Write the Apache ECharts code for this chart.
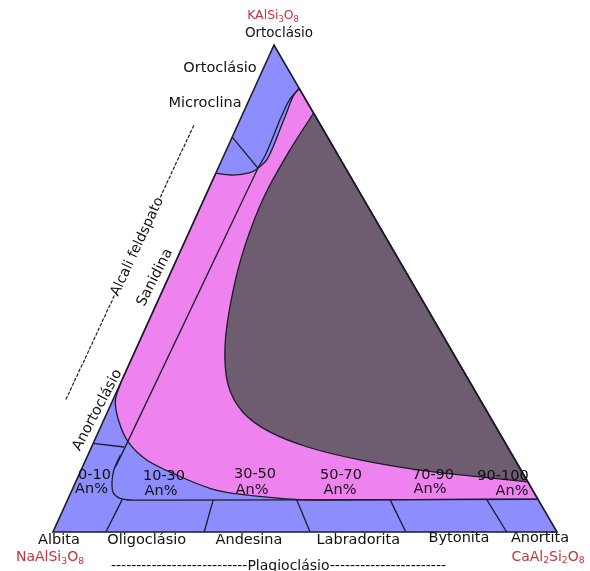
<!DOCTYPE html>
<html>
<head>
<meta charset="utf-8">
<script src="https://cdn.jsdelivr.net/npm/echarts@6/dist/echarts.min.js"></script>
<style>
  html, body { margin: 0; padding: 0; background: #ffffff; }
  #chart { width: 590px; height: 571px; }
</style>
</head>
<body>
<div id="chart"></div>
<script>
// Feldspar ternary diagram: Or (KAlSi3O8) – Ab (NaAlSi3O8) – An (CaAl2Si2O8).
// Every composition below is [Or, An] in mol %; Ab = 100 − Or − An.

const triangle = [[100, 0], [0, 0], [0, 100]];

// Lower limit of the K-feldspar field, from the Or–Ab edge to the Or–An edge
const kfsLimit = [[73.7, 0], [73.3, 3.6], [73.8, 6.7], [74.7, 7.9], [76.4, 8.9], [79.1, 9.0],
                  [82.5, 8.8], [86.0, 8.6], [89.4, 8.4], [91.1, 8.9]];
// Inner microcline boundary
const microclineLens = [[91.1, 8.9], [88.6, 8.0], [85.0, 7.9], [81.0, 8.1], [77.5, 8.2], [74.7, 7.9]];
// Orthoclase / microcline divide
const orthoclaseMicrocline = [[81.1, 0], [74.7, 7.9]];
// Sanidine / anorthoclase divide, bending into the upper limit of the plagioclases
const sanidineDivide = [[74.7, 7.9], [18.5, 6.7]];
const plagCorner = [[18.5, 6.7], [15.6, 6.45], [12.7, 6.5], [10.3, 7.2], [8.2, 8.3], [7.0, 10.0], [6.6, 12.4], [6.55, 20]];
const plagLimitEnd = [6.7, 93.3];
// Anorthoclase upper limit
const anorthoclaseLimit = [[18.2, 0], [17.45, 6.44]];
// Lower edge of the alkali-feldspar solid solution (merges into the plagioclase limit)
const solvusLower = [[6.6, 60], [6.65, 46.1], [7.95, 32.2], [8.97, 27.2], [11.7, 19.4], [14.8, 12.1],
                     [18.5, 6.8], [23.0, 2.9], [27.1, 0.5], [31.2, 0]];
const solvusRightEnd = [6.8, 93.2];
// Two-feldspar (miscibility gap) field
const twoFeldspar = [[86.0, 14.0], [78.4, 12.6], [69.2, 11.7], [58.9, 12.3], [48.7, 14.2], [38.4, 17.3],
                     [30.2, 21.5], [24.6, 26.9], [20.5, 34.1], [17.3, 43.4], [14.8, 54.4], [12.7, 67.2],
                     [11.3, 79.8], [10.3, 89.7]];
// Plagioclase series divides (An %)
const plagDividers = [
  [[6.6, 10.8], [0, 10.5]],
  [[6.55, 28.9], [0, 30]],
  [[6.55, 45.5], [0, 51]],
  [[6.6, 64.0], [0, 70]],
  [[6.6, 83.2], [0, 90]]
];

// Text
const anRanges = ['0-10', '10-30', '30-50', '50-70', '70-90', '90-100'];
const plagNames = ['Albita', 'Oligoclásio', 'Andesina', 'Labradorita', 'Bytonita', 'Anortita'];
const alkaliNames = ['Ortoclásio', 'Microclina', 'Sanidina', 'Anortoclásio'];
const groupNames = ['Alcali feldspato', 'Plagioclásio'];

// Horizontal position of the Or apex along the Ab–An base (%)
const APEX_X = 43.85;
function toXY(p) { return [p[1] + APEX_X * p[0] / 100, p[0]]; }

const COLORS = { blue: '#8d8dfd', pink: '#ee82ee', dark: '#6e5c70', line: '#1c1c28', red: '#c8323c', text: '#111111' };
const FONT = '"DejaVu Sans", Verdana, sans-serif';

function pathBuilder(px) {
  let d = '';
  const f = v => v.toFixed(2);
  return {
    M(p) { const q = px(p); d += 'M' + f(q[0]) + ' ' + f(q[1]) + ' '; return this; },
    L(p) { const q = px(p); d += 'L' + f(q[0]) + ' ' + f(q[1]) + ' '; return this; },
    // Catmull-Rom curve through pts (current point must be pts[0])
    curve(pts, before, after) {
      const P = pts.map(px);
      const B = before ? px(before) : P[0];
      const A = after ? px(after) : P[P.length - 1];
      for (let i = 0; i < P.length - 1; i++) {
        const p0 = i === 0 ? B : P[i - 1], p1 = P[i], p2 = P[i + 1];
        const p3 = i + 2 < P.length ? P[i + 2] : A;
        const c1 = [p1[0] + (p2[0] - p0[0]) / 6, p1[1] + (p2[1] - p0[1]) / 6];
        const c2 = [p2[0] - (p3[0] - p1[0]) / 6, p2[1] - (p3[1] - p1[1]) / 6];
        d += 'C' + f(c1[0]) + ' ' + f(c1[1]) + ' ' + f(c2[0]) + ' ' + f(c2[1]) + ' ' + f(p2[0]) + ' ' + f(p2[1]) + ' ';
      }
      return this;
    },
    Z() { d += 'Z'; return this; },
    get d() { return d; }
  };
}

function renderDiagram(params, api) {
  const px = p => api.coord(toXY(p));
  const pb = () => pathBuilder(px);
  const lineStyle = { fill: null, stroke: COLORS.line, lineWidth: 1.3, lineJoin: 'round' };
  const children = [];
  const add = (d, style) => children.push({ type: 'path', shape: { pathData: d }, style: style, silent: true });

  // whole diagram in the plagioclase / alkali-feldspar blue
  add(pb().M(triangle[0]).L(triangle[1]).L(triangle[2]).Z().d, { fill: COLORS.blue, stroke: null });

  // alkali-feldspar solid solution
  add(pb().M(kfsLimit[0]).curve(kfsLimit).L(solvusRightEnd).L(solvusLower[0])
        .curve(solvusLower).L(kfsLimit[0]).Z().d,
      { fill: COLORS.pink, stroke: COLORS.line, lineWidth: 1.3, lineJoin: 'round' });

  // two-feldspar field
  add(pb().M(twoFeldspar[0]).curve(twoFeldspar).L(twoFeldspar[0]).Z().d,
      { fill: COLORS.dark, stroke: COLORS.line, lineWidth: 1.3, lineJoin: 'round' });

  add(pb().M(microclineLens[0]).curve(microclineLens).d, lineStyle);
  add(pb().M(orthoclaseMicrocline[0]).L(orthoclaseMicrocline[1]).d, lineStyle);
  add(pb().M(sanidineDivide[0]).L(sanidineDivide[1]).curve(plagCorner, sanidineDivide[0], plagLimitEnd)
        .L(plagLimitEnd).d, lineStyle);
  add(pb().M(anorthoclaseLimit[0]).L(anorthoclaseLimit[1]).d, lineStyle);
  plagDividers.forEach(seg => add(pb().M(seg[0]).L(seg[1]).d, lineStyle));

  // outline
  add(pb().M(triangle[0]).L(triangle[1]).L(triangle[2]).Z().d,
      { fill: null, stroke: COLORS.line, lineWidth: 1.6, lineJoin: 'miter' });

  return { type: 'group', children: children };
}

// Text placement helpers
function label(text, x, y, opt) {
  opt = opt || {};
  return {
    type: 'text', x: x, y: y, rotation: (opt.rot || 0) * Math.PI / 180, silent: true, z: 100,
    style: {
      text: text, x: 0, y: 0, align: 'center', verticalAlign: 'middle',
      font: (opt.size || 14.5) + 'px ' + FONT, fill: opt.color || COLORS.text,
      rich: opt.rich
    }
  };
}
const subRich = size => ({
  n: { fontSize: size, fontFamily: FONT, fill: COLORS.red, color: COLORS.red },
  s: { fontSize: size * 0.66, fontFamily: FONT, fill: COLORS.red, color: COLORS.red, verticalAlign: 'bottom', padding: [0, 0, -1, 0] }
});
const dashes = n => '-'.repeat(n);

const graphics = [
  label('{n|KAlSi}{s|3}{n|O}{s|8}', 273, 16, { size: 12.5, color: COLORS.red, rich: subRich(12.5) }),
  label(alkaliNames[0], 279, 33, { size: 13.5 }),
  label(alkaliNames[0], 220, 68),
  label(alkaliNames[1], 205, 103),
  label(dashes(23) + groupNames[0] + dashes(16), 130, 262.5, { rot: 65, size: 14 }),
  label(alkaliNames[2], 155, 277.5, { rot: 63 }),
  label(alkaliNames[3], 97.5, 410, { rot: 62 }),
  label('{n|NaAlSi}{s|3}{n|O}{s|8}', 50, 557.7, { size: 14, color: COLORS.red, rich: subRich(14) }),
  label('{n|CaAl}{s|2}{n|Si}{s|2}{n|O}{s|8}', 548, 557.3, { size: 14, color: COLORS.red, rich: subRich(14) }),
  label(dashes(27) + groupNames[1] + dashes(23), 278.5, 566.7, { size: 14 })
];
const anPos = [[94.5, 475, 91.5, 489], [164, 476, 161, 491.7], [255, 474, 252, 490],
               [341, 475, 340, 490.7], [433, 475, 430, 489], [503, 476.7, 512, 491.7]];
anRanges.forEach((t, i) => {
  const p = anPos[i];
  graphics.push(label(t, p[0], p[1]));
  graphics.push(label('An%', p[2], p[3]));
});
const namePos = [[59, 540], [146.7, 540.7], [249, 540], [358.3, 540], [459, 538.3], [540, 538.3]];
plagNames.forEach((t, i) => graphics.push(label(t, namePos[i][0], namePos[i][1])));

const chart = echarts.init(document.getElementById('chart'), null, { renderer: 'canvas' });
chart.setOption({
  animation: false,
  backgroundColor: '#ffffff',
  grid: { left: 53, top: 45, width: 504, height: 487, show: false },
  xAxis: { type: 'value', min: 0, max: 100, show: false },
  yAxis: { type: 'value', min: 0, max: 100, show: false },
  series: [{
    type: 'custom',
    coordinateSystem: 'cartesian2d',
    clip: false,
    silent: true,
    data: [[0, 0]],
    renderItem: renderDiagram
  }],
  graphic: graphics
});
</script>
</body>
</html>
